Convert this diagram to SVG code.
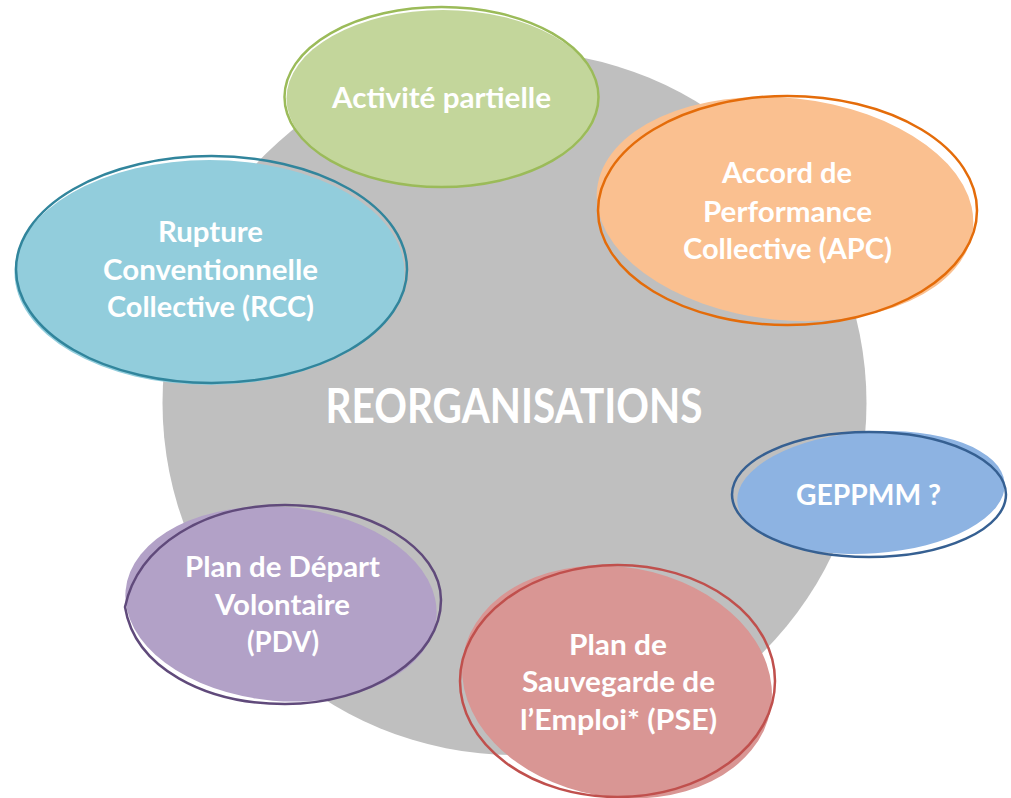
<svg xmlns="http://www.w3.org/2000/svg" width="1011" height="798" viewBox="0 0 1011 798">
  <style>
    .lbl { font-family: Lato, "Open Sans", "Liberation Sans", sans-serif; font-weight: 700; fill: #FFFFFF; text-anchor: middle; font-size: 28px; }
    .title { font-size: 47px; }
    .edge { fill: none; stroke-width: 2.5; }
  </style>
  <rect width="1011" height="798" fill="#FFFFFF"/>

  <!-- central disc -->
  <g id="center">
    <circle cx="514.5" cy="403" r="352" fill="#BFBFBF"/>
    <text class="lbl title" x="514" y="423" textLength="377" lengthAdjust="spacingAndGlyphs">REORGANISATIONS</text>
  </g>

  <!-- no connectors in this diagram -->
  <g id="connectors"></g>

  <!-- each bubble: a slightly offset fill under a sketchy outline -->
  <g id="activite-partielle">
    <ellipse cx="443" cy="98.5" rx="156.5" ry="88.5" fill="#C3D69B"/>
    <ellipse class="edge" cx="441.5" cy="97" rx="157" ry="90" stroke="#9BBB59"/>
    <text class="lbl" x="441.5" y="108" textLength="219" lengthAdjust="spacingAndGlyphs">Activité partielle</text>
  </g>

  <g id="apc">
    <ellipse cx="785" cy="209" rx="189" ry="111" transform="rotate(6 785 209)" fill="#FAC090"/>
    <ellipse class="edge" cx="787.5" cy="210.5" rx="189.5" ry="114.5" stroke="#E46C0A"/>
    <text class="lbl" x="787" y="183" textLength="130" lengthAdjust="spacingAndGlyphs">Accord de</text>
    <text class="lbl" x="787.5" y="221.5" textLength="169" lengthAdjust="spacingAndGlyphs">Performance</text>
    <text class="lbl" x="787.5" y="259" textLength="209" lengthAdjust="spacingAndGlyphs">Collective (APC)</text>
  </g>

  <g id="rcc">
    <ellipse cx="209.5" cy="272.5" rx="195" ry="112.5" fill="#92CDDC"/>
    <ellipse class="edge" cx="211.5" cy="269.5" rx="195.5" ry="113.5" stroke="#31859C"/>
    <text class="lbl" x="210.5" y="242" textLength="105" lengthAdjust="spacingAndGlyphs">Rupture</text>
    <text class="lbl" x="210.5" y="280" textLength="215" lengthAdjust="spacingAndGlyphs">Conventionnelle</text>
    <text class="lbl" x="210.5" y="317" textLength="207" lengthAdjust="spacingAndGlyphs">Collective (RCC)</text>
  </g>

  <g id="geppmm">
    <ellipse cx="871" cy="492.5" rx="134" ry="61" transform="rotate(-4 871 492.5)" fill="#8DB3E2"/>
    <ellipse class="edge" cx="869" cy="494.5" rx="137" ry="62.5" stroke="#366092"/>
    <text class="lbl" x="868.5" y="505" textLength="145" lengthAdjust="spacingAndGlyphs">GEPPMM ?</text>
  </g>

  <g id="pdv">
    <ellipse cx="281" cy="604" rx="156" ry="97" transform="rotate(5 281 604)" fill="#B2A1C7"/>
    <path class="edge" stroke="#604A7B" d="M125,607 C138,545 205,505 285,505 C370,505 441,548 441,600 C441,658 370,704 285,704 C205,704 135,668 125,607 Z"/>
    <text class="lbl" x="282.5" y="577" textLength="195" lengthAdjust="spacingAndGlyphs">Plan de Départ</text>
    <text class="lbl" x="282.5" y="615" textLength="135" lengthAdjust="spacingAndGlyphs">Volontaire</text>
    <text class="lbl" x="283" y="652" textLength="72" lengthAdjust="spacingAndGlyphs">(PDV)</text>
  </g>

  <g id="pse">
    <ellipse cx="617" cy="682" rx="156" ry="115" transform="rotate(10 617 682)" fill="#D99694"/>
    <ellipse class="edge" cx="617.5" cy="681" rx="157.5" ry="116" stroke="#C0504D"/>
    <text class="lbl" x="618" y="655" textLength="98" lengthAdjust="spacingAndGlyphs">Plan de</text>
    <text class="lbl" x="618.5" y="692" textLength="193" lengthAdjust="spacingAndGlyphs">Sauvegarde de</text>
    <text class="lbl" x="618.5" y="730" textLength="197" lengthAdjust="spacingAndGlyphs">l’Emploi* (PSE)</text>
  </g>
</svg>
